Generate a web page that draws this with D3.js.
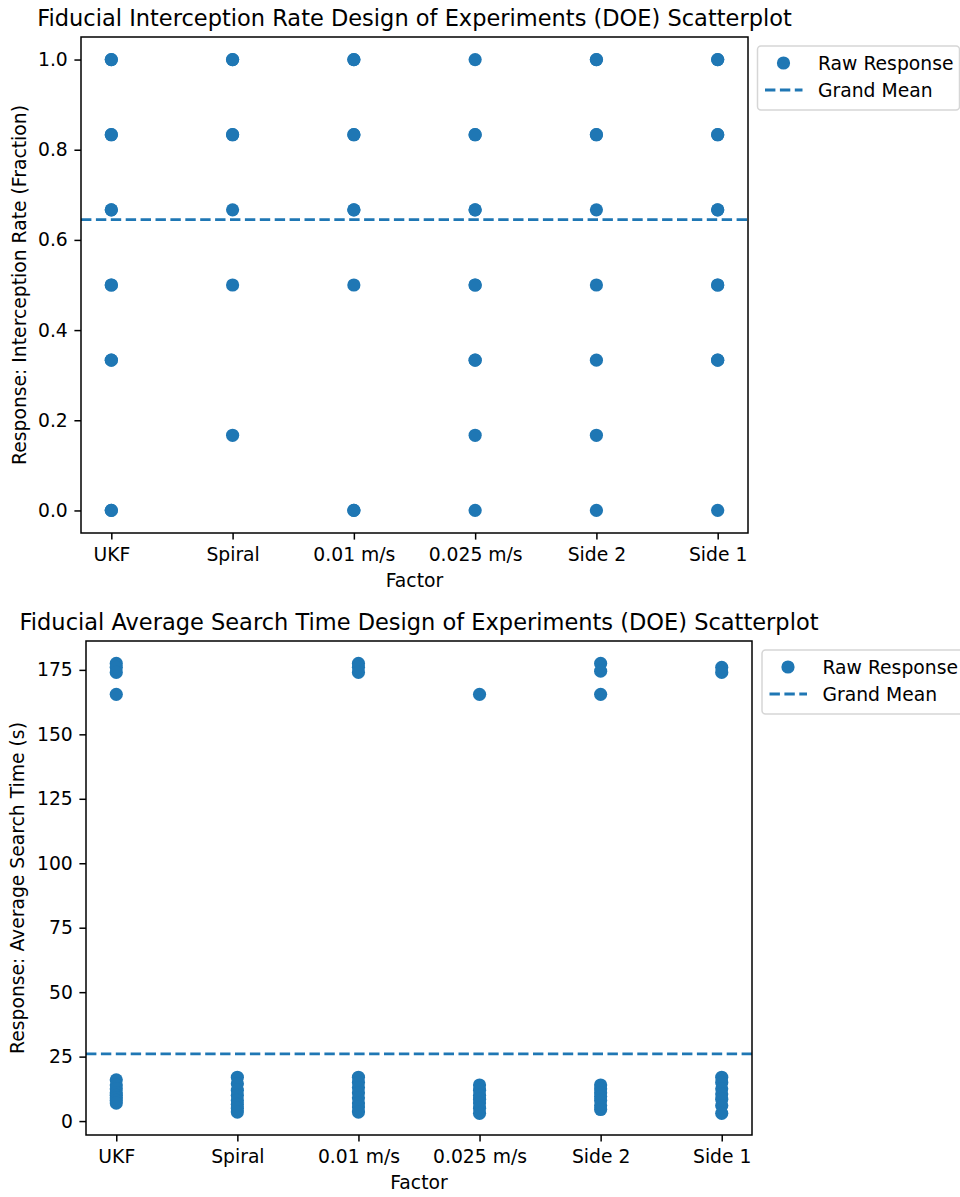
<!DOCTYPE html>
<html><head><meta charset="utf-8">
<script src="https://cdn.jsdelivr.net/npm/d3@7"></script>
<style>
body{margin:0;background:#fff;}
svg{display:block;font-family:"DejaVu Sans",sans-serif;}
</style></head><body>
<svg id="c" width="960" height="1197"></svg>
<script>
const categories = ["UKF","Spiral","0.01 m/s","0.025 m/s","Side 2","Side 1"];

// Chart 1: interception rate values per category
const rateUKF    = [1.0,1.0,0.8333,0.8333,0.6667,0.6667,0.5,0.5,0.3333,0.3333,0.0,0.0];
const rateSpiral = [1.0,1.0,0.8333,0.8333,0.6667,0.5,0.1667];
const rate001    = [1.0,1.0,0.8333,0.8333,0.6667,0.6667,0.5,0.0,0.0];
const rate0025   = [1.0,0.8333,0.8333,0.6667,0.6667,0.5,0.5,0.3333,0.3333,0.1667,0.0];
const rateSide2  = [1.0,1.0,0.8333,0.8333,0.6667,0.5,0.3333,0.1667,0.0];
const rateSide1  = [1.0,1.0,0.8333,0.8333,0.6667,0.6667,0.5,0.5,0.3333,0.3333,0.0];
const rateMean = 0.645;
const rateTicks = [0.0,0.2,0.4,0.6,0.8,1.0];

// Chart 2: average search time values per category
const timeUKF    = [177.5,176,174,165.5,16,14,12.5,11,10,9,8,7];
const timeSpiral = [17,14.5,12,10,8,6.5,5,3.5];
const time001    = [177.5,176,174,17,15,13,11,9,7,5.5,3.5];
const time0025   = [165.5,14,12,10,8.5,7,5,3];
const timeSide2  = [177.5,174.5,165.5,14,12.5,11,9.5,8,6,4.5];
const timeSide1  = [176,174,17,15,12.5,10.5,8.5,6,3];
const timeMean = 26.1;
const timeTicks = [0,25,50,75,100,125,150,175];

const color = "#1f77b4";
const FS = 18.75, TFS = 22.5, R = 6.6;
const svg = d3.select("#c");

function drawChart(cfg){
  const g = svg.append("g");
  const x = d3.scaleLinear().domain([-0.25, 5.25]).range([cfg.left, cfg.right]);
  const y = d3.scaleLinear().domain(cfg.ydom).range([cfg.bottom, cfg.top]);

  cfg.series.forEach((vals, i) => {
    g.selectAll(null).data(vals).enter().append("circle")
      .attr("cx", x(i)).attr("cy", d => y(d)).attr("r", R)
      .attr("fill", color);
  });
  g.append("line").attr("x1", cfg.left).attr("x2", cfg.right)
    .attr("y1", y(cfg.mean)).attr("y2", y(cfg.mean))
    .attr("stroke", color).attr("stroke-width", 2.8)
    .attr("stroke-dasharray", "10.4,4.5");

  g.append("rect").attr("x", cfg.left).attr("y", cfg.top)
    .attr("width", cfg.right - cfg.left).attr("height", cfg.bottom - cfg.top)
    .attr("fill", "none").attr("stroke", "#000").attr("stroke-width", 1.5);

  const xa = d3.axisBottom(x).tickValues(d3.range(categories.length))
    .tickFormat(i => categories[i]).tickSize(6.6).tickPadding(8);
  const ya = d3.axisLeft(y).tickValues(cfg.ticks).tickFormat(cfg.fmt)
    .tickSize(6.6).tickPadding(6.6);
  const gx = g.append("g").attr("transform", `translate(0,${cfg.bottom})`).call(xa);
  const gy = g.append("g").attr("transform", `translate(${cfg.left},0)`).call(ya);
  [gx, gy].forEach(a => {
    a.select(".domain").remove();
    a.selectAll("line").attr("stroke", "#000").attr("stroke-width", 1.5);
    a.selectAll("text").attr("font-size", FS).attr("fill", "#000")
      .attr("font-family", "DejaVu Sans");
  });

  g.append("text").attr("x", (cfg.left + cfg.right) / 2).attr("y", cfg.top - 11)
    .attr("text-anchor", "middle").attr("font-size", TFS).text(cfg.title);
  g.append("text").attr("x", (cfg.left + cfg.right) / 2).attr("y", cfg.bottom + 54)
    .attr("text-anchor", "middle").attr("font-size", FS).text("Factor");
  g.append("text").attr("transform", `translate(${cfg.ylx},${(cfg.top + cfg.bottom) / 2}) rotate(-90)`)
    .attr("text-anchor", "middle").attr("font-size", FS).text(cfg.ylabel);

  const lg = g.append("g").attr("transform", `translate(${cfg.lx},${cfg.ly})`);
  lg.append("rect").attr("x", 0).attr("y", 0).attr("width", 202).attr("height", 64)
    .attr("rx", 3.5).attr("fill", "#fff").attr("fill-opacity", 0.8)
    .attr("stroke", "#d6d6d6").attr("stroke-width", 1.5);
  lg.append("circle").attr("cx", 26).attr("cy", 17).attr("r", R).attr("fill", color);
  lg.append("line").attr("x1", 7.5).attr("x2", 45).attr("y1", 44).attr("y2", 44)
    .attr("stroke", color).attr("stroke-width", 2.8).attr("stroke-dasharray", "10.4,4.5");
  lg.append("text").attr("x", 60.5).attr("y", 23.5).attr("font-size", FS).text("Raw Response");
  lg.append("text").attr("x", 60.5).attr("y", 50.5).attr("font-size", FS).text("Grand Mean");
}

drawChart({
  left: 81, right: 748, top: 37, bottom: 533,
  ydom: [-0.05, 1.05], ticks: rateTicks, fmt: d3.format(".1f"),
  series: [rateUKF, rateSpiral, rate001, rate0025, rateSide2, rateSide1],
  mean: rateMean,
  title: "Fiducial Interception Rate Design of Experiments (DOE) Scatterplot",
  ylabel: "Response: Interception Rate (Fraction)", ylx: 26,
  lx: 757.5, ly: 46
});

drawChart({
  left: 86, right: 752, top: 641, bottom: 1135,
  ydom: [-5.4, 186.2], ticks: timeTicks, fmt: d3.format("d"),
  series: [timeUKF, timeSpiral, time001, time0025, timeSide2, timeSide1],
  mean: timeMean,
  title: "Fiducial Average Search Time Design of Experiments (DOE) Scatterplot",
  ylabel: "Response: Average Search Time (s)", ylx: 24,
  lx: 762, ly: 650
});
</script>
</body></html>
